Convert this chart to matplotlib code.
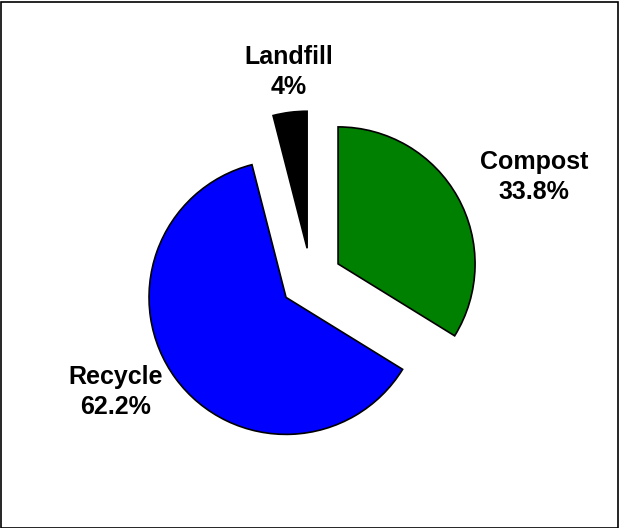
import matplotlib
matplotlib.use("Agg")
import matplotlib.pyplot as plt
from matplotlib.patches import Rectangle

categories = ["Compost", "Recycle", "Landfill"]
values = [33.8, 62.2, 4.0]
value_labels = ["33.8%", "62.2%", "4%"]
colors = ["#008000", "#0000FF", "#000000"]

W, H = 619, 528
fig = plt.figure(figsize=(W / 100, H / 100), dpi=100)
ax = fig.add_axes([0, 0, 1, 1])

radius = 137
center = (311, H - 279)
ax.pie(values, colors=colors, startangle=90, counterclock=False,
       explode=[31] * 3, radius=radius, center=center,
       wedgeprops=dict(edgecolor="black", linewidth=1.2), frame=True)
ax.set_xlim(0, W)
ax.set_ylim(0, H)
ax.set_aspect("equal")
ax.axis("off")

label_pos = {"Compost": (534, 177), "Recycle": (116, 392), "Landfill": (289, 72)}
for cat, lab in zip(categories, value_labels):
    x, y = label_pos[cat]
    ax.text(x, H - y, f"{cat}\n{lab}", ha="center", va="center",
            fontsize=18, fontweight="bold", family="Liberation Sans",
            linespacing=1.35)

fig.patches.append(Rectangle((0.5, 0.5), W - 2, H - 2, transform=None,
                             fill=False, edgecolor="black", linewidth=1.2))
fig.savefig("out.png", dpi=100)
